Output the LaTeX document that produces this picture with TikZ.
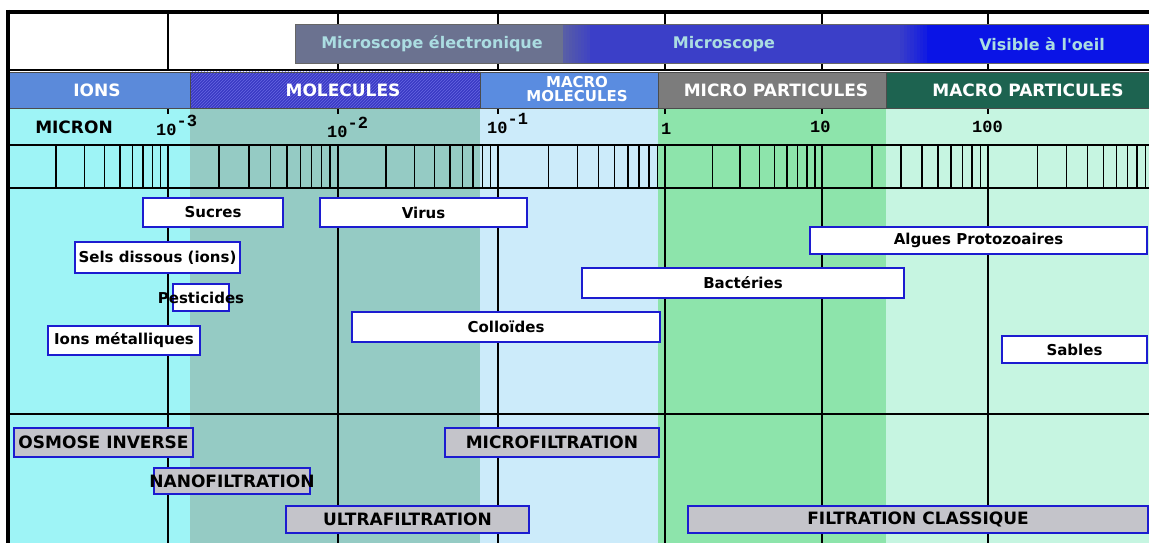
\documentclass[tikz,border=0pt]{standalone}
\usepackage{fontspec}
\setmainfont{DejaVu Sans}
\setmonofont{Liberation Mono}
\usepackage{xcolor}
\usetikzlibrary{patterns}
\definecolor{col-ions}{HTML}{9EF4F6}
\definecolor{col-mol}{HTML}{95CBC4}
\definecolor{col-macromol}{HTML}{CCEBFA}
\definecolor{col-micropart}{HTML}{8DE4AB}
\definecolor{col-macropart}{HTML}{C6F5E1}
\definecolor{head-ions}{HTML}{5B8ADA}
\definecolor{head-mol}{HTML}{3A3AC4}
\definecolor{head-molhatch}{HTML}{6666E2}
\definecolor{head-macromol}{HTML}{5A8CE0}
\definecolor{head-micropart}{HTML}{7C7C7C}
\definecolor{head-macropart}{HTML}{1D6350}
\definecolor{scope-gray}{HTML}{6B7290}
\definecolor{scope-blue}{HTML}{3B3FC8}
\definecolor{scope-eye}{HTML}{0A14E6}
\definecolor{scope-text}{HTML}{ABDDE2}
\definecolor{box-blue}{HTML}{1C1CD0}
\definecolor{filt-gray}{HTML}{C4C4CA}

\begin{document}
\begin{tikzpicture}[x=1pt, y=-1pt,
    objbox/.style={draw=box-blue, fill=white, line width=1.8pt, inner sep=0pt,
      font=\fontsize{15}{18}\selectfont\bfseries},
    filtbox/.style={draw=box-blue, fill=filt-gray, line width=1.8pt, inner sep=0pt,
      font=\fontsize{17}{20}\selectfont\bfseries},
    headlbl/.style={text=white, font=\fontsize{17}{20}\selectfont\bfseries},
    scopelbl/.style={text=scope-text, font=\fontsize{16}{19}\selectfont\bfseries},
    scalelbl/.style={anchor=base west, inner sep=0pt,
      font=\fontsize{17}{20}\selectfont\ttfamily\bfseries},
    decade/.style={line width=2.4pt},
    minortick/.style={line width=1.5pt},
    gridline/.style={line width=2pt}]

  \useasboundingbox (0,0) rectangle (1149,543);
  \fill[white] (0,0) rectangle (1149,543);

  % size bands
  \fill[col-ions] (8,108) rectangle (190,543);
  \fill[col-mol] (190,108) rectangle (480,543);
  \fill[col-macromol] (480,108) rectangle (658,543);
  \fill[col-micropart] (658,108) rectangle (886,543);
  \fill[col-macropart] (886,108) rectangle (1149,543);

  % log scale
  \foreach \d in {168,338,498,665,822,988} {
    \draw[decade] (\d,13) -- (\d,70);
    \draw[decade] (\d,108) -- (\d,114);
    \draw[decade] (\d,145) -- (\d,543);
  }
  \foreach \a/\b in {8/168,168/338,338/498,498/665,665/822,822/988,988/1153}
    \foreach \k in {2,...,9}
      \draw[minortick] ({\a+(\b-\a)*log10(\k)},145) -- ({\a+(\b-\a)*log10(\k)},188);
  \draw[gridline] (8,70) -- (1149,70);
  \draw[gridline] (8,145) -- (1149,145);
  \draw[gridline] (8,188) -- (1149,188);
  \draw[gridline] (8,414) -- (1149,414);

  % microscope bar
  \fill[scope-gray] (295,24) rectangle (563,63);
  \fill[scope-blue] (563,24) rectangle (927,63);
  \foreach \i in {0,...,8} {
    \fill[scope-blue!\i0!scope-gray!60!scope-blue] ({563+3*\i},24) rectangle ({566+3*\i},63);
    \fill[scope-eye!\i0!scope-blue] ({897+3.3*\i},24) rectangle ({900.3+3.3*\i},63);
  }
  \fill[scope-eye] (927,24) rectangle (1149,63);
  \draw[black!60, line width=0.8pt] (295,24) rectangle (1149,63);
  \node[scopelbl] (elec) at (432,44) {Microscope électronique};
  \node[scopelbl] (optic) at (724,44) {Microscope};
  \node[scopelbl] (eye) at (1042,44) {Visible à l\textquotesingle oeil};

  % size classes
  \fill[head-ions] (8,72) rectangle (190,108);
  \fill[head-mol] (190,72) rectangle (480,108);
  \fill[pattern=north east lines, pattern color=head-molhatch] (190,72) rectangle (480,108);
  \fill[head-macromol] (480,72) rectangle (658,108);
  \fill[head-micropart] (658,72) rectangle (886,108);
  \fill[head-macropart] (886,72) rectangle (1149,108);
  \draw[black!70, line width=0.8pt] (8,72) rectangle (1149,108)
    (190,72) -- (190,108) (480,72) -- (480,108) (658,72) -- (658,108) (886,72) -- (886,108);
  \node[headlbl] (ions) at (97,90) {IONS};
  \node[headlbl] (mol) at (343,90) {MOLECULES};
  \node[headlbl, align=center, inner sep=0pt, font=\fontsize{15}{14}\selectfont\bfseries] (macromol) at (577,89) {MACRO\\MOLECULES};
  \node[headlbl] (micropart) at (776,90) {MICRO PARTICULES};
  \node[headlbl] (macropart) at (1028,90) {MACRO PARTICULES};

  % micron row
  \node[font=\fontsize{17}{20}\selectfont\bfseries] (micron) at (74,127) {MICRON};
  \node[scalelbl] (em3) at (156,135) {10\raisebox{9pt}{-3}};
  \node[scalelbl] (em2) at (327,137) {10\raisebox{9pt}{-2}};
  \node[scalelbl] (em1) at (487,133) {10\raisebox{9pt}{-1}};
  \node[scalelbl] (e0) at (661,134) {1};
  \node[scalelbl] (e1) at (810,132) {10};
  \node[scalelbl] (e2) at (972,132) {100};

  % frame
  \draw[line width=4pt] (6,12) -- (1149,12);
  \draw[line width=3.5pt] (8,10) -- (8,543);

  % particles
  \node[objbox, minimum width=140pt, minimum height=29pt] (sucres) at (213,212.5) {Sucres};
  \node[objbox, minimum width=207pt, minimum height=29pt] (virus) at (423.5,212.5) {Virus};
  \node[objbox, minimum width=165pt, minimum height=31pt] (sels) at (157.5,257.5) {Sels dissous (ions)};
  \node[objbox, minimum width=56pt, minimum height=27pt] (pesticides) at (201,297.5) {\makebox[0pt]{Pesticides}};
  \node[objbox, minimum width=152pt, minimum height=29pt] (metaux) at (124,340.5) {Ions métalliques};
  \node[objbox, minimum width=308pt, minimum height=30pt] (colloides) at (506,327) {Colloïdes};
  \node[objbox, minimum width=322pt, minimum height=30pt] (bacteries) at (743,283) {Bactéries};
  \node[objbox, minimum width=337pt, minimum height=27pt] (algues) at (978.5,240.5) {Algues Protozoaires};
  \node[objbox, minimum width=145pt, minimum height=27pt] (sables) at (1074.5,349.5) {Sables};

  % separation processes
  \node[filtbox, minimum width=179pt, minimum height=29pt] (osmose) at (103.5,442.5) {OSMOSE INVERSE};
  \node[filtbox, minimum width=156pt, minimum height=26pt] (nano) at (232,481) {\makebox[0pt]{NANOFILTRATION}};
  \node[filtbox, minimum width=243pt, minimum height=27pt] (ultra) at (407.5,519.5) {ULTRAFILTRATION};
  \node[filtbox, minimum width=214pt, minimum height=29pt] (micro) at (552,442.5) {MICROFILTRATION};
  \node[filtbox, minimum width=460pt, minimum height=27pt] (classique) at (918,519.5) {FILTRATION CLASSIQUE};
\end{tikzpicture}
\end{document}
